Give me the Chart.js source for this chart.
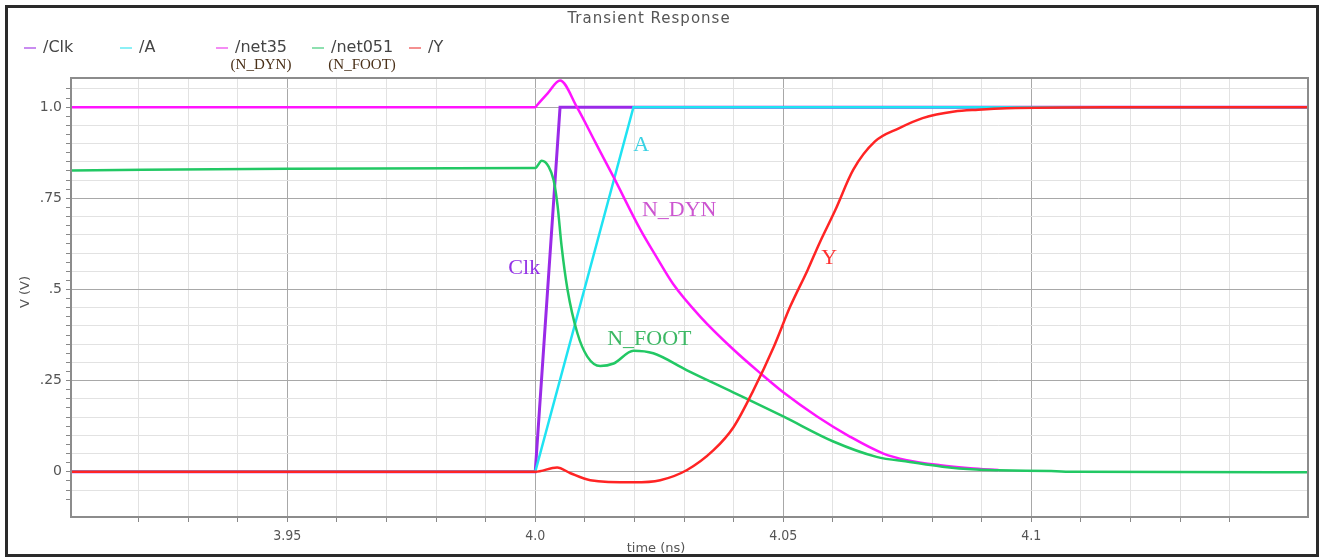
<!DOCTYPE html>
<html>
<head>
<meta charset="utf-8">
<script src="https://cdn.jsdelivr.net/npm/chart.js@4.4.1/dist/chart.umd.min.js"></script>
<style>
  html, body { margin: 0; padding: 0; background: #fff; }
  #wrap { width: 1323px; height: 559px; position: relative; }
</style>
</head>
<body>
<div id="wrap"><canvas id="grafico"></canvas></div>
<script>
// series, in legend order (later ones are drawn on top)
var names = ["/Clk", "/A", "/net35", "/net051", "/Y"];
var subNames = ["", "", "(N_DYN)", "(N_FOOT)", ""];
var colors = ["#9a2ae8", "#1fe3f2", "#ff14ff", "#22c864", "#ff2424"];
var legendColors = ["#c98cf0", "#8cf0f6", "#f48cf4", "#8ee0b0", "#f49090"];

// time (ns) / voltage (V)
var clkT = [3.9064, 4.0, 4.0050, 4.1558];
var clkV = [0, 0, 1.0, 1.0];

var aT = [3.9064, 4.0, 4.0198, 4.1558];
var aV = [0, 0, 1.0, 1.0];

var dynT = [3.9064, 4.0, 4.0004, 4.0025, 4.0050, 4.0084, 4.0121, 4.0158, 4.0212, 4.0244, 4.0278, 4.0333,
            4.0399, 4.0454, 4.0500, 4.0569, 4.0635, 4.0702, 4.0749, 4.0817, 4.0877, 4.0934];
var dynV = [1.0, 1.0, 1.006, 1.038, 1.073, 1.0, 0.904, 0.808, 0.664, 0.59, 0.515, 0.425,
            0.336, 0.27, 0.218, 0.151, 0.096, 0.05, 0.032, 0.018, 0.010, 0.005];

var footT = [3.9064, 3.95, 4.0, 4.0013, 4.0027, 4.0037, 4.0045, 4.0053, 4.0065, 4.0085, 4.0105, 4.0131,
             4.0158, 4.0198, 4.0238, 4.0305, 4.0399, 4.0501, 4.0601, 4.0688, 4.0755, 4.0821, 4.0889,
             4.0934, 4.1040, 4.1090, 4.1558];
var footV = [0.826, 0.831, 0.833, 0.853, 0.837, 0.80, 0.73, 0.62, 0.50, 0.38, 0.316, 0.29,
             0.297, 0.332, 0.325, 0.279, 0.218, 0.151, 0.083, 0.041, 0.027, 0.014, 0.006,
             0.004, 0.002, 0.0, -0.001];

var yT = [3.9064, 4.0, 4.0044, 4.0071, 4.0111, 4.0198, 4.0252, 4.0306, 4.0360, 4.0400, 4.0440, 4.0481,
          4.0514, 4.0549, 4.0573, 4.0605, 4.0641, 4.0685, 4.0733, 4.0781, 4.0845, 4.0893, 4.0950,
          4.1149, 4.1558];
var yV = [0, 0, 0.012, -0.004, -0.023, -0.029, -0.023, 0.005, 0.06, 0.123, 0.224, 0.343,
          0.453, 0.553, 0.627, 0.718, 0.828, 0.906, 0.942, 0.970, 0.988, 0.993, 0.997,
          1.0, 1.0];

// axes
var xMin = 3.9064, xMax = 4.1558, yMin = -0.124, yMax = 1.08;
var xLabels = [3.95, 4.0, 4.05, 4.1];
var xLabelText = ["3.95", "4.0", "4.05", "4.1"];
var yLabels = [0, 0.25, 0.5, 0.75, 1.0];
var yLabelText = ["0", ".25", ".5", ".75", "1.0"];

// labels written inside the plot (data coords)
var tagText = ["Clk", "A", "N_DYN", "N_FOOT", "Y"];
var tagT = [3.99778, 4.02137, 4.02903, 4.0230, 4.05927];
var tagV = [0.559, 0.897, 0.718, 0.364, 0.587];
var tagColors = ["#9330e6", "#3ad2e4", "#cc55d0", "#3cb864", "#ff3030"];

function pts(t, v) {
    var out = [];
    for (var i = 0; i < t.length; i++) out.push({x: t[i], y: v[i]});
    return out;
}
function findLabel(list, text, value) {
    for (var i = 0; i < list.length; i++) {
        if (Math.abs(list[i] - value) < 1e-6) return text[i];
    }
    return "";
}

var series = [pts(clkT, clkV), pts(aT, aV), pts(dynT, dynV), pts(footT, footV), pts(yT, yV)];
var smooth = [false, false, true, true, true];
var datasets = [];
for (var i = 0; i < series.length; i++) {
    datasets.push({
        label: names[i],
        data: series[i],
        borderColor: colors[i],
        borderWidth: i == 0 ? 3 : 2.5,
        pointRadius: 0,
        tension: 0,
        cubicInterpolationMode: smooth[i] ? "monotone" : "default",
        order: series.length - 1 - i
    });
}

// title, legend, frames and in-plot labels
var decorations = {
    id: "decorations",
    beforeDraw: function(chart) {
        var c = chart.ctx;
        c.save();
        c.fillStyle = "#fff";
        c.fillRect(0, 0, chart.width, chart.height);
        c.restore();
    },
    afterDatasetsDraw: function(chart) {
        var c = chart.ctx;
        var xs = chart.scales.x, ys = chart.scales.y;
        c.save();
        c.textAlign = "center";
        c.textBaseline = "middle";
        c.font = "22px 'Liberation Serif'";
        for (var i = 0; i < tagText.length; i++) {
            c.fillStyle = tagColors[i];
            c.fillText(tagText[i], xs.getPixelForValue(tagT[i]), ys.getPixelForValue(tagV[i]));
        }
        c.restore();
    },
    afterDraw: function(chart) {
        var c = chart.ctx;
        var a = chart.chartArea;
        c.save();
        // plot frame
        c.strokeStyle = "#8c8c8c";
        c.lineWidth = 2;
        c.strokeRect(a.left, a.top, a.right - a.left, a.bottom - a.top);
        // outer border
        c.strokeStyle = "#2a2a2a";
        c.lineWidth = 3;
        c.strokeRect(6.5, 6.5, 1311, 549);
        // title
        c.fillStyle = "#555";
        c.font = "15px 'DejaVu Sans'";
        c.textAlign = "center";
        c.textBaseline = "middle";
        c.letterSpacing = "1px";
        c.fillText("Transient Response", 649, 19);
        c.letterSpacing = "0px";
        // legend
        var lx = [24, 120, 216, 312, 409];
        for (var i = 0; i < names.length; i++) {
            c.strokeStyle = legendColors[i];
            c.lineWidth = 2;
            c.beginPath();
            c.moveTo(lx[i], 48);
            c.lineTo(lx[i] + 12, 48);
            c.stroke();
            c.fillStyle = "#444";
            c.font = "16px 'DejaVu Sans'";
            c.textAlign = "left";
            c.fillText(names[i], lx[i] + 19, 48);
            if (subNames[i]) {
                var w = c.measureText(names[i]).width;
                c.fillStyle = "#4a3018";
                c.font = "15px 'Liberation Serif'";
                c.textAlign = "center";
                c.fillText(subNames[i], lx[i] + 19 + w / 2, 65);
            }
        }
        // axis titles
        c.fillStyle = "#555";
        c.font = "13px 'DejaVu Sans'";
        c.textAlign = "center";
        c.fillText("time (ns)", 656, 549);
        c.translate(26, 292);
        c.rotate(-Math.PI / 2);
        c.fillText("V (V)", 0, 0);
        c.restore();
    }
};

var canvas = document.getElementById("grafico");
var graph = new Chart(canvas, {
    type: "line",
    data: { datasets: datasets },
    plugins: [decorations],
    options: {
        responsive: true,
        maintainAspectRatio: false,
        animation: false,
        layout: { padding: { top: 78, right: 15, left: 0, bottom: 0 } },
        plugins: { legend: { display: false }, title: { display: false }, tooltip: { enabled: false } },
        scales: {
            x: {
                type: "linear",
                min: xMin, max: xMax,
                afterFit: function(s) { s.height = 42; },
                border: { display: false },
                grid: {
                    color: function(ctx) {
                        var v = Math.round(ctx.tick.value * 1000);
                        if (findLabel(xLabels, xLabelText, ctx.tick.value)) return "#a8a8a8";
                        if (v % 10 == 0) return "#e2e2e2";
                        return "rgba(0,0,0,0)";
                    },
                    tickColor: function(ctx) {
                        var v = Math.round(ctx.tick.value * 1000);
                        return v % 10 == 0 ? "#888" : "rgba(0,0,0,0)";
                    },
                    tickLength: 5,
                    lineWidth: 1
                },
                ticks: {
                    stepSize: 0.01,
                    autoSkip: false,
                    maxRotation: 0,
                    padding: 6,
                    color: "#555",
                    font: { family: "'DejaVu Sans Condensed', 'DejaVu Sans'", size: 14 },
                    callback: function(value) { return findLabel(xLabels, xLabelText, value); }
                }
            },
            y: {
                min: yMin, max: yMax,
                afterFit: function(s) { s.width = 71; },
                border: { display: false },
                grid: {
                    color: function(ctx) {
                        var v = Math.round(ctx.tick.value * 1000);
                        if (v % 250 == 0) return "#a8a8a8";
                        if (v % 50 == 0) return "#e2e2e2";
                        return "rgba(0,0,0,0)";
                    },
                    tickColor: function(ctx) {
                        var v = Math.round(ctx.tick.value * 1000);
                        return v % 25 == 0 ? "#888" : "rgba(0,0,0,0)";
                    },
                    tickLength: 5,
                    lineWidth: 1
                },
                ticks: {
                    stepSize: 0.025,
                    autoSkip: false,
                    padding: 4,
                    color: "#555",
                    font: { family: "'DejaVu Sans'", size: 14 },
                    callback: function(value) { return findLabel(yLabels, yLabelText, value); }
                }
            }
        }
    }
});
</script>
</body>
</html>
